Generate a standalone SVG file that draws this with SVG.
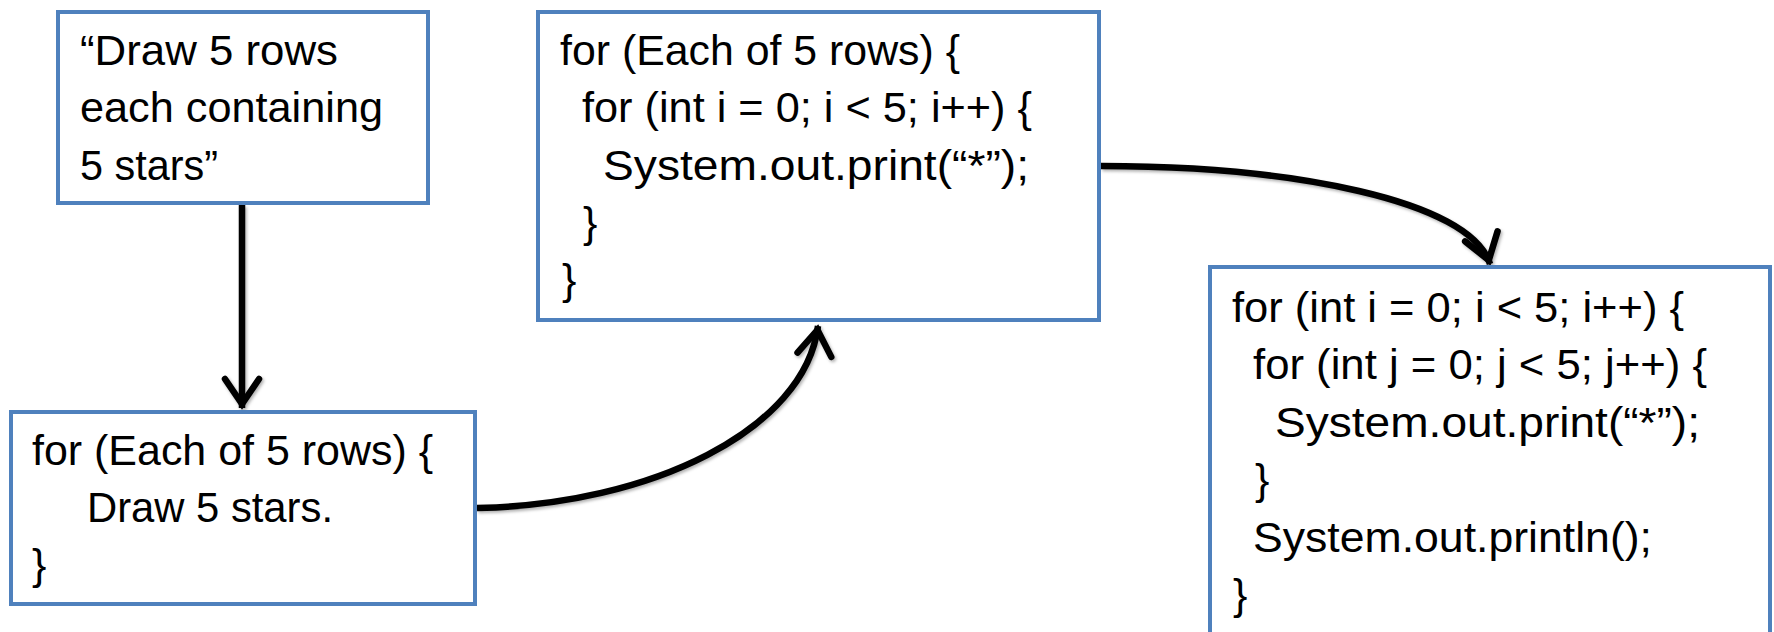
<svg xmlns="http://www.w3.org/2000/svg" width="1774" height="632" viewBox="0 0 1774 632">
  <style>
    .box { fill: #ffffff; stroke: #4f81bd; stroke-width: 4; }
    .txt { font-family: "Liberation Sans", Arial, sans-serif; font-size: 43px; fill: #000000; }
    .conn { fill: none; stroke: #000000; stroke-width: 6.5; filter: url(#shadow); }
  </style>
  <defs>
    <filter id="shadow" filterUnits="userSpaceOnUse" x="0" y="0" width="1774" height="632">
      <feDropShadow dx="1.5" dy="2" stdDeviation="1.5" flood-color="#000000" flood-opacity="0.3"/>
    </filter>
    <marker id="openArrow" markerUnits="userSpaceOnUse" viewBox="-40 -25 50 50" refX="0" refY="0" markerWidth="50" markerHeight="50" orient="auto" overflow="visible">
      <path d="M -29 -17 L -4 0 L -29 17" fill="none" stroke="#000000" stroke-width="6.5" stroke-linecap="round" stroke-linejoin="miter"/>
    </marker>
  </defs>

  <g id="connectors">
    <path class="conn" d="M 242 205 L 242 408" marker-end="url(#openArrow)"/>
    <path class="conn" d="M 477 508 C 650 505, 805 430, 818 326" marker-end="url(#openArrow)"/>
    <path class="conn" d="M 1101 166 C 1290 166, 1470 200, 1490 264" marker-end="url(#openArrow)"/>
  </g>

  <g id="node-description">
    <rect class="box" x="58" y="12" width="370" height="191"/>
    <text class="txt" x="80" y="65" textLength="258" lengthAdjust="spacingAndGlyphs">“Draw 5 rows</text>
    <text class="txt" x="80" y="122" textLength="303" lengthAdjust="spacingAndGlyphs">each containing</text>
    <text class="txt" x="80" y="180" textLength="138" lengthAdjust="spacingAndGlyphs">5 stars”</text>
  </g>

  <g id="node-pseudocode">
    <rect class="box" x="11" y="412" width="464" height="192"/>
    <text class="txt" x="32" y="465" textLength="401" lengthAdjust="spacingAndGlyphs">for (Each of 5 rows) {</text>
    <text class="txt" x="87" y="522" textLength="246" lengthAdjust="spacingAndGlyphs">Draw 5 stars.</text>
    <text class="txt" x="32" y="579">}</text>
  </g>

  <g id="node-partial-code">
    <rect class="box" x="538" y="12" width="561" height="308"/>
    <text class="txt" x="560" y="65" textLength="400" lengthAdjust="spacingAndGlyphs">for (Each of 5 rows) {</text>
    <text class="txt" x="582" y="122" textLength="450" lengthAdjust="spacingAndGlyphs">for (int i = 0; i &lt; 5; i++) {</text>
    <text class="txt" x="603" y="180" textLength="426" lengthAdjust="spacingAndGlyphs">System.out.print(“*”);</text>
    <text class="txt" x="583" y="237">}</text>
    <text class="txt" x="562" y="294">}</text>
  </g>

  <g id="node-final-code">
    <rect class="box" x="1210" y="267" width="560" height="380"/>
    <text class="txt" x="1232" y="322" textLength="452" lengthAdjust="spacingAndGlyphs">for (int i = 0; i &lt; 5; i++) {</text>
    <text class="txt" x="1253" y="379" textLength="454" lengthAdjust="spacingAndGlyphs">for (int j = 0; j &lt; 5; j++) {</text>
    <text class="txt" x="1275" y="437" textLength="425" lengthAdjust="spacingAndGlyphs">System.out.print(“*”);</text>
    <text class="txt" x="1255" y="494">}</text>
    <text class="txt" x="1253" y="552" textLength="399" lengthAdjust="spacingAndGlyphs">System.out.println();</text>
    <text class="txt" x="1233" y="609">}</text>
  </g>
</svg>
